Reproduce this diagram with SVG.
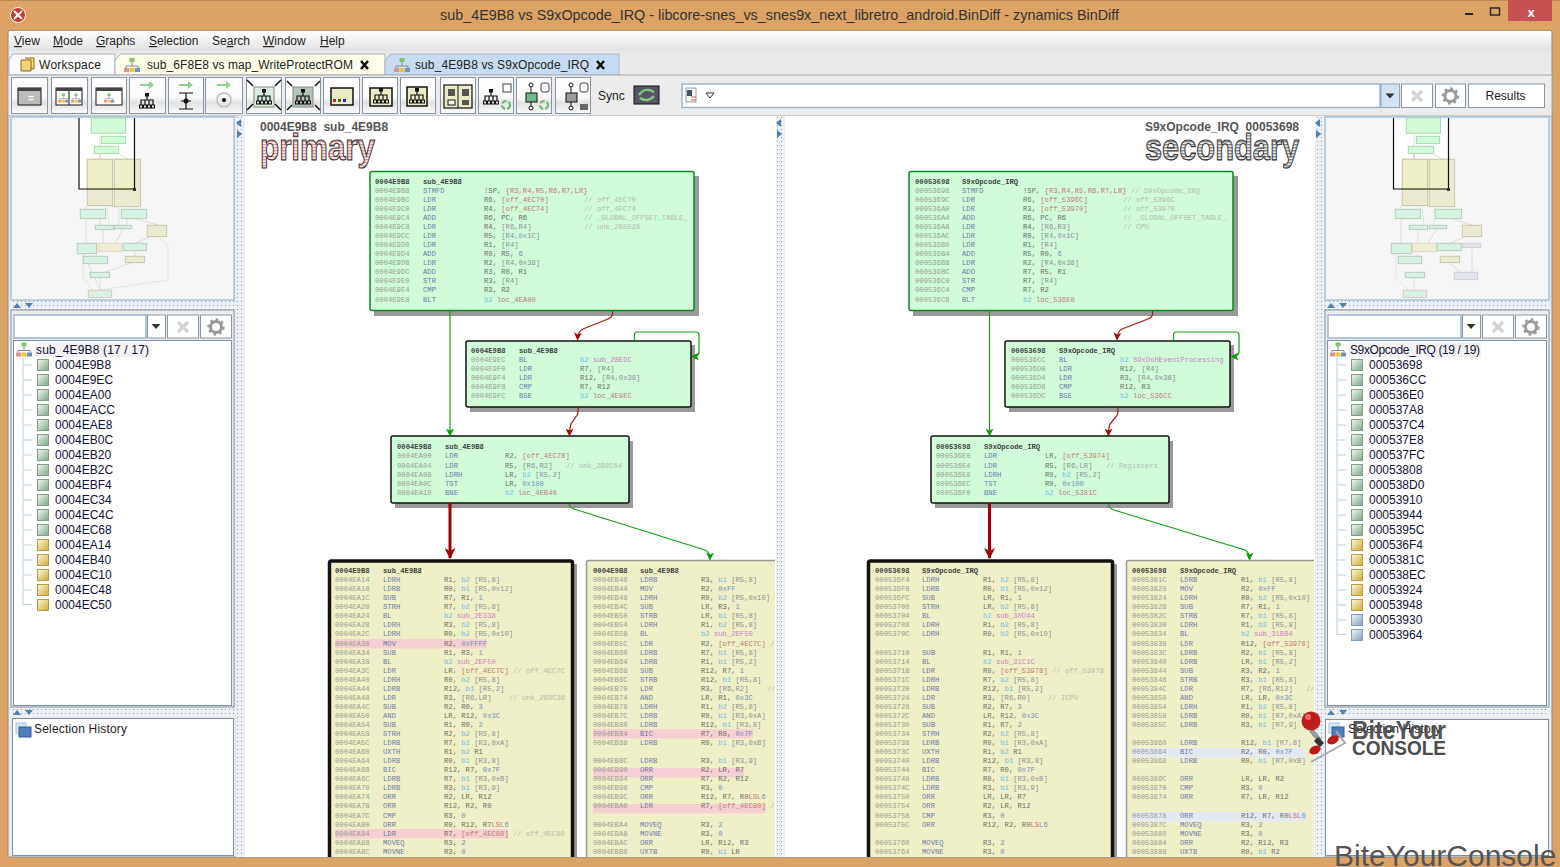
<svg xmlns="http://www.w3.org/2000/svg" width="1560" height="867" viewBox="0 0 1560 867">
<style>
text{font-family:"Liberation Sans",Arial,sans-serif}
.ui{font-size:12px;fill:#222}
.tree{font-size:12px;fill:#10103a}
.code text{font-family:"Liberation Mono","Courier New",monospace;font-size:7.2px;fill:#555;opacity:.85}
.a{fill:#8c8c8c}.m{fill:#5565a5}.o{fill:#555}.p{fill:#7a8090}.k{fill:#62b4ea}.n{fill:#5f80b8}.l{fill:#b56a60}.f{fill:#c86cc8}.c{fill:#b0b0b0}.s{fill:#c06060}
.h{font-weight:bold;fill:#222}
.btn{fill:url(#bg);stroke:#8696a6}
.fld{fill:#fff;stroke:#9db6cf;stroke-width:1.5}
.pane{fill:#fff;stroke:#7f93a7}
.gb{fill:#d1fcd9;stroke:#0a8a1a;stroke-width:1.5}
.bb{fill:#d1fcd9;stroke:#111;stroke-width:1.5}
.yb{fill:#f0f0c8;stroke:#111;stroke-width:3.5}
.yt{fill:#f0f0c8;stroke:#999;stroke-width:1.5}
.sh{fill:#999}
.g1{fill:none;stroke:#12a012;stroke-width:1.2}
.r1{fill:none;stroke:#b01010;stroke-width:1.2}
.r3{fill:none;stroke:#a00000;stroke-width:3}
.hr{fill:#f5d0d2}.hb{fill:#e5e9f2}
.ic{fill:none;stroke:#111;stroke-width:1.2}
.mg{fill:#d0fcd8;stroke:#a8d8b0}.mf{fill:#d9f3e2;stroke:#b9ccc0}.my{fill:#f0f0c8;stroke:#c8c8a8}.myf{fill:#ecebd2;stroke:#c8c8b0}.mz{fill:#f0eed8;stroke:#e0d8c0}.mb{fill:#e4e6ee;stroke:#d0d0d8}.mp{fill:#d9f3e2;stroke:#e0c8c8}
.me{fill:none;stroke:#e8d8d8;stroke-width:1}.mh{fill:none;stroke:#d8ecd8;stroke-width:1}
.lb{fill:#4f7fb8}
.wm{font-weight:bold;fill:#4d4d4d}
</style>
<defs>
<linearGradient id="bg" x1="0" y1="0" x2="0" y2="1"><stop offset="0" stop-color="#fff"/><stop offset=".55" stop-color="#fafafa"/><stop offset=".7" stop-color="#e2e2e2"/><stop offset="1" stop-color="#fbfbfb"/></linearGradient>
<linearGradient id="mb" x1="0" y1="0" x2="0" y2="1"><stop offset="0" stop-color="#fff"/><stop offset="1" stop-color="#e2e2e2"/></linearGradient>
<linearGradient id="ig" x1="0" y1="0" x2="1" y2="1"><stop offset="0" stop-color="#f4f8f4"/><stop offset="1" stop-color="#7ba886"/></linearGradient>
<linearGradient id="iy" x1="0" y1="0" x2="1" y2="1"><stop offset="0" stop-color="#fdf8dc"/><stop offset="1" stop-color="#d0aa38"/></linearGradient>
<linearGradient id="ib" x1="0" y1="0" x2="1" y2="1"><stop offset="0" stop-color="#f4f8fc"/><stop offset="1" stop-color="#7f9fc0"/></linearGradient>
<pattern id="dots" width="4" height="4" patternUnits="userSpaceOnUse"><rect width="4" height="4" fill="#edf1f5"/><rect x="1" y="1" width="1" height="1" fill="#8a9aaa"/></pattern>
<pattern id="st1" width="3" height="3" patternUnits="userSpaceOnUse"><rect width="3" height="3" fill="#fbe4e4"/><rect width="3" height="1.2" fill="#d89a9a"/></pattern>
<pattern id="st2" width="3" height="3" patternUnits="userSpaceOnUse"><rect width="3" height="3" fill="#eeeeee"/><rect width="3" height="1.4" fill="#8a8a8a"/></pattern>
<clipPath id="cl"><rect x="246" y="116" width="529" height="741"/></clipPath>
<clipPath id="cr"><rect x="785" y="116" width="529" height="741"/></clipPath>
<marker id="ag" markerWidth="8" markerHeight="8" refX="7" refY="4" orient="auto" markerUnits="userSpaceOnUse"><path d="M0 0L8 4L0 8L2 4Z" fill="#0a9a0a"/></marker>
<marker id="ar" markerWidth="8" markerHeight="8" refX="7" refY="4" orient="auto" markerUnits="userSpaceOnUse"><path d="M0 0L8 4L0 8L2 4Z" fill="#a80808"/></marker>
<marker id="aR" markerWidth="11" markerHeight="11" refX="10" refY="5.5" orient="auto" markerUnits="userSpaceOnUse"><path d="M0 0L11 5.5L0 11L3 5.5Z" fill="#a00000"/></marker>
<g id="tr"><path class="ic" d="M0 -5V-1M-6 4V-1H6V4M-2 4V-1M2 4V-1"/><rect x="-2" y="-8" width="4" height="3.5" fill="#111"/><rect x="-7.5" y="4" width="3" height="3" fill="none" stroke="#111"/><rect x="-3.5" y="4" width="3" height="3" fill="none" stroke="#111"/><rect x=".5" y="4" width="3" height="3" fill="none" stroke="#111"/><rect x="4.5" y="4" width="3" height="3" fill="none" stroke="#111"/></g>
<g id="ti"><path d="M0 -3V1M-6 3V1H6V3" fill="none" stroke="#888"/><rect x="-2.5" y="-7" width="5" height="4" fill="#7cc66a"/><rect x="-8" y="3" width="5" height="4" fill="#e79090"/><rect x="-2.5" y="3" width="5" height="4" fill="#e8c83e"/><rect x="3" y="3" width="5" height="4" fill="#6f93b8"/></g>
<g id="ga"><circle r="5.5" fill="none" stroke="#999" stroke-width="3"/><circle r="7.5" fill="none" stroke="#999" stroke-width="2.4" stroke-dasharray="2.6 3.2"/></g>
<path id="xx" d="M-5 -5L5 5M5 -5L-5 5" stroke="#d4d4d4" stroke-width="3.5" fill="none"/>
<path id="dn" d="M-4.5 -2.5H4.5L0 2.5Z" fill="#333"/>
<g id="sw"><circle r="4" fill="none" stroke="#6ab86a" stroke-width="2" stroke-dasharray="5 2"/></g>
</defs>

<rect width="1560" height="867" fill="#dda364"/>
<rect x="0" y="0" width="1560" height="1" fill="#b98a55"/>
<g id="caption">
<circle cx="18" cy="15" r="7.5" fill="#c23a30" stroke="#fff"/><path d="M14 11L22 19M22 11L14 19" stroke="#fff" stroke-width="2"/>
<text x="440" y="20" font-size="14.5" fill="#333" textLength="679" lengthAdjust="spacingAndGlyphs">sub_4E9B8 vs S9xOpcode_IRQ - libcore-snes_vs_snes9x_next_libretro_android.BinDiff - zynamics BinDiff</text>
<rect x="1465" y="13" width="8" height="2" fill="#222"/><rect x="1490.500" y="8" width="9" height="7" fill="none" stroke="#222" stroke-width="1.4"/>
<rect x="1508" y="0" width="44" height="21" fill="#c75050"/><text x="1531" y="17" font-size="13" font-weight="bold" fill="#fff" text-anchor="middle">x</text>
</g>
<rect x="8" y="31" width="1544" height="826" fill="#eaeaea" stroke="#8c8c8c"/>
<g id="menu">
<rect x="9" y="31" width="1542" height="20" fill="url(#mb)"/>
<text class="ui" y="45"><tspan x="14" text-decoration="underline">V</tspan><tspan>iew</tspan><tspan x="53" text-decoration="underline">M</tspan><tspan>ode</tspan><tspan x="96" text-decoration="underline">G</tspan><tspan>raphs</tspan><tspan x="149" text-decoration="underline">S</tspan><tspan>election</tspan><tspan x="212">Se</tspan><tspan text-decoration="underline">a</tspan><tspan>rch</tspan><tspan x="263" text-decoration="underline">W</tspan><tspan>indow</tspan><tspan x="320" text-decoration="underline">H</tspan><tspan>elp</tspan></text>
</g>
<g id="tabs">
<path d="M9 75V60L13 54H115V75Z" fill="#fbfbfb" stroke="#a9b4c0"/>
<path d="M115 75V60L121 54H385V75Z" fill="#fdfde9" stroke="#a9b4c0"/>
<path d="M385 75V60L391 54H619V75Z" fill="#c7dcf2" stroke="#a9b4c0"/>
<path d="M21 60h10v11h-10z M25 58h9v11h-3" fill="#f2d27a" stroke="#8a6a20"/>
<text class="ui" x="39" y="69" textLength="62">Workspace</text>
<use href="#ti" x="132" y="65"/><text class="ui" x="147" y="69" textLength="206">sub_6F8E8 vs map_WriteProtectROM</text><path d="M361 61L368 69M368 61L361 69" stroke="#111" stroke-width="2.6"/>
<use href="#ti" x="402" y="65"/><text class="ui" x="415" y="69" textLength="174">sub_4E9B8 vs S9xOpcode_IRQ</text><path d="M597 61L604 69M604 61L597 69" stroke="#111" stroke-width="2.6"/>
</g>
<g id="toolbar">
<rect x="8" y="75" width="1544" height="41" fill="#ececec" stroke="#a8a8a8"/>
<rect class="btn" x="11.500" y="77.500" width="36" height="36"/><rect class="btn" x="51.500" y="77.500" width="36" height="36"/><rect class="btn" x="91.500" y="77.500" width="35" height="36"/><rect class="btn" x="129.500" y="77.500" width="36" height="36"/><rect class="btn" x="168.500" y="77.500" width="35" height="36"/><rect class="btn" x="205.500" y="77.500" width="37" height="36"/><rect class="btn" x="246.500" y="77.500" width="35" height="36"/><rect class="btn" x="285.500" y="77.500" width="35" height="36"/><rect class="btn" x="323.500" y="77.500" width="36" height="36"/><rect class="btn" x="362.500" y="77.500" width="35" height="36"/><rect class="btn" x="400.500" y="77.500" width="35" height="36"/><rect class="btn" x="440.500" y="77.500" width="35" height="36"/><rect class="btn" x="478.500" y="77.500" width="35" height="36"/><rect class="btn" x="516.500" y="77.500" width="35" height="36"/><rect class="btn" x="555.500" y="77.500" width="35" height="36"/>
<rect x="18" y="88" width="23" height="17" fill="#bbb" stroke="#111"/><rect x="18" y="88" width="23" height="3" fill="#444"/><text x="28" y="102" font-size="10" font-weight="bold" fill="#fff">=</text>
<rect x="56" y="88" width="26" height="17" fill="#fff" stroke="#111"/><rect x="56" y="88" width="26" height="3" fill="#444"/><path d="M69 91V105" stroke="#111"/><use href="#ti" x="62.500" y="98" transform="translate(23.400 35.300) scale(.64)"/><use href="#ti" x="76" y="98" transform="translate(27.400 35.300) scale(.64)"/>
<rect x="96" y="88" width="26" height="17" fill="#fff" stroke="#111"/><rect x="96" y="88" width="26" height="3" fill="#444"/><use href="#ti" x="109" y="98" transform="translate(39.200 35.300) scale(.64)"/>
<path d="M140 84h9v-3l5 4-5 4v-3h-9z" fill="#8fcf8f"/><use href="#tr" x="147" y="101"/>
<path d="M179 84h9v-3l5 4-5 4v-3h-9z" fill="#8fcf8f"/><path class="ic" d="M186 93V109M179 93H193M179 109H193M181 101H191"/><circle cx="186" cy="101" r="2.500" fill="#111"/>
<path d="M217 84h9v-3l5 4-5 4v-3h-9z" fill="#8fcf8f"/><circle cx="224" cy="100" r="7" fill="none" stroke="#bbb" stroke-width="1.500"/><circle cx="224" cy="100" r="2" fill="#111"/>
<rect x="254" y="87" width="20" height="20" fill="#d8f0dc" stroke="#888"/><use href="#tr" x="264" y="97"/><path d="M247 80L253 86M281 80L275 86M247 110L253 104M281 110L275 104" stroke="#111" stroke-width="1.500"/>
<rect x="293" y="87" width="20" height="20" fill="#b4c4b4" stroke="#888"/><use href="#tr" x="303" y="97"/><path d="M287 81L292 86M320 81L315 86M287 110L292 105M320 110L315 105" stroke="#111" stroke-width="1.500"/>
<rect x="331" y="88" width="22" height="17" fill="#ecebc8" stroke="#111" stroke-width="1.500"/><rect x="333" y="99" width="3" height="3" fill="#c22"/><rect x="338" y="99" width="3" height="3" fill="#282"/><rect x="343" y="99" width="3" height="3" fill="#22c"/>
<rect x="370" y="88" width="22" height="18" fill="#ecebc8" stroke="#111" stroke-width="1.500"/><use href="#tr" x="381" y="96"/>
<rect x="407" y="87" width="20" height="19" fill="#ecebc8" stroke="#111" stroke-width="1.500"/><use href="#tr" x="417" y="96"/>
<rect x="444" y="85" width="28" height="23" fill="#ecebc8" stroke="#111" stroke-width="1.200"/><path d="M458 85V108" stroke="#111"/><rect x="448" y="89" width="7" height="7" fill="#555"/><rect x="462" y="89" width="7" height="7" fill="#555"/><rect x="448" y="100" width="7" height="5" fill="#fff" stroke="#111"/><rect x="462" y="100" width="7" height="5" fill="#555"/>
<use href="#tr" x="491" y="97"/><rect x="503" y="84" width="8" height="8" fill="#fff" stroke="#444"/><use href="#sw" x="506" y="105"/>
<circle cx="531" cy="85" r="2" fill="none" stroke="#111"/><rect x="526" y="93" width="11" height="9" fill="#72b88a" stroke="#111"/><circle cx="531" cy="108" r="2" fill="none" stroke="#111"/><path d="M531 87V93M531 102V106" stroke="#111"/><rect x="541" y="83" width="8" height="9" rx="2" fill="#fff" stroke="#444"/><use href="#sw" x="544" y="105"/>
<circle cx="571" cy="85" r="2" fill="none" stroke="#111"/><rect x="566" y="93" width="11" height="9" fill="#999" stroke="#111"/><circle cx="571" cy="108" r="2" fill="none" stroke="#111"/><path d="M571 87V93M571 102V106" stroke="#111"/><rect x="580" y="83" width="8" height="9" rx="2" fill="#fff" stroke="#444"/><rect x="580" y="104" width="8" height="6" fill="#666"/>
<text class="ui" x="598" y="100">Sync</text>
<rect x="634" y="86" width="25" height="18" fill="#556" stroke="#111"/><path d="M639 95C643 89 649 89 654 92M654 96C650 101 644 101 640 98" stroke="#7ec87e" stroke-width="2.500" fill="none"/>
<rect class="fld" x="682" y="84" width="698" height="23.500"/>
<rect x="686" y="88" width="10" height="14" fill="#fff" stroke="#999"/><rect x="687" y="90" width="5" height="6" fill="#456"/><path d="M691 97h5M691 100h5" stroke="#d55" stroke-width="1.200"/>
<path d="M706 93H714L710 98Z" fill="#fff" stroke="#333"/>
<rect x="1381" y="84" width="18.500" height="23.500" fill="#d3e2f0" stroke="#8ea3b8"/><use href="#dn" x="1390" y="96"/>
<rect x="1401.500" y="84" width="31" height="23.500" fill="#fff" stroke="#8696a6"/><use href="#xx" x="1417" y="96"/>
<rect x="1435.500" y="84" width="30" height="23.500" fill="#fff" stroke="#8696a6"/><use href="#ga" x="1450.500" y="96"/>
<rect x="1468.500" y="84" width="76" height="23.500" fill="#fff" stroke="#8696a6"/><text class="ui" x="1505.500" y="100" text-anchor="middle">Results</text>
</g>

<g id="left-panel">
<rect x="11" y="117" width="223" height="183" fill="#f6f6f6" stroke="#a9c4de" stroke-width="1.500"/>
<rect x="79" y="118" width="56" height="71" fill="#fff"/>
<rect class="mg" x="91.300" y="118" width="34.300" height="15.300"/><rect class="mg" x="101.300" y="136.300" width="24.300" height="7.300"/><rect class="mg" x="94.300" y="146.300" width="24.300" height="7.300"/>
<path class="mh" d="M100 133V146M119 154L128 159"/><path d="M100 154V159" stroke="#f0a8a8"/>
<rect class="myf" x="87.300" y="159.300" width="25.300" height="46.300"/><rect class="my" x="87.300" y="159.300" width="25.300" height="30"/><rect class="myf" x="114.300" y="159.300" width="26.300" height="47.300"/><rect class="my" x="114.300" y="159.300" width="20.300" height="30"/>
<path class="me" d="M86 206V209M134 207V209M86 219V243M100 219V226M127 219V225M136 219L158 225M103 230V243M123 228L116 243M150 237L135 243M96 254V263M135 247V256M131 263L100 274M100 277V290M83 253L100 289"/><path class="mh" d="M107 206L109 225M119 207V225M158 237L168 245V280L100 290M83 254V277L92 290"/>
<rect class="mf" x="80.300" y="209.300" width="25.300" height="9.300"/><rect class="mf" x="121.300" y="209.300" width="25.300" height="9.300"/><rect class="mf" x="95.300" y="225.300" width="18.700" height="4.300"/><rect class="mf" x="114.300" y="225.300" width="17.300" height="3.300"/><rect class="myf" x="147.300" y="225.300" width="19.300" height="11.300"/><rect class="mf" x="77.300" y="243.300" width="19.300" height="10.300"/><rect class="mz" x="98.300" y="243.300" width="23.300" height="8.300"/><rect class="mf" x="123.300" y="243.300" width="23.300" height="7.300"/><rect class="mf" x="83.300" y="256.300" width="24.300" height="7.300"/><rect class="myf" x="125.300" y="256.300" width="19.300" height="6.300"/><rect class="mf" x="90.300" y="272.300" width="19.300" height="5.300"/><rect class="mp" x="88.300" y="290.300" width="23.300" height="7.300"/>
<path d="M79 118V189H134.500V118" fill="none" stroke="#111" stroke-width="1.200"/><rect x="133" y="188" width="3" height="3" fill="#333"/>
<rect x="11" y="301" width="223" height="9" fill="url(#dots)"/><path class="lb" d="M13 308L17 303L21 308ZM25 303H33L29 308Z"/>
<rect x="11" y="310" width="223" height="397" fill="#ececec" stroke="#7f93a7"/>
<rect class="fld" x="14" y="315" width="132" height="23"/>
<rect x="147.500" y="315" width="18" height="23" fill="#fff" stroke="#8696a6"/><use href="#dn" x="156" y="326.500"/>
<rect x="167.500" y="315" width="31" height="23" fill="#fff" stroke="#8696a6"/><use href="#xx" x="183" y="327"/>
<rect x="200.500" y="315" width="31" height="23" fill="#fff" stroke="#8696a6"/><use href="#ga" x="216" y="327"/>
<rect class="pane" x="13.500" y="340.500" width="218" height="365"/>
<use href="#ti" x="24" y="349.500"/><rect x="35" y="342" width="117" height="15" fill="#f3f3f3"/><text class="tree" x="36" y="354" textLength="113">sub_4E9B8 (17 / 17)</text>
<path d="M23 357V604.500H32M23 365H32M23 380H32M23 395H32M23 410H32M23 425H32M23 440H32M23 455H32M23 470H32M23 485H32M23 500H32M23 515H32M23 530H32M23 545H32M23 560H32M23 575H32M23 590H32" fill="none" stroke="#b7cfe5"/>
<g fill="url(#ig)" stroke="#7f9f88"><rect x="37.500" y="359.500" width="11" height="11"/><rect x="37.500" y="374.500" width="11" height="11"/><rect x="37.500" y="389.500" width="11" height="11"/><rect x="37.500" y="404.500" width="11" height="11"/><rect x="37.500" y="419.500" width="11" height="11"/><rect x="37.500" y="434.500" width="11" height="11"/><rect x="37.500" y="449.500" width="11" height="11"/><rect x="37.500" y="464.500" width="11" height="11"/><rect x="37.500" y="479.500" width="11" height="11"/><rect x="37.500" y="494.500" width="11" height="11"/><rect x="37.500" y="509.500" width="11" height="11"/><rect x="37.500" y="524.500" width="11" height="11"/></g>
<g fill="url(#iy)" stroke="#b89a48"><rect x="37.500" y="539.500" width="11" height="11"/><rect x="37.500" y="554.500" width="11" height="11"/><rect x="37.500" y="569.500" width="11" height="11"/><rect x="37.500" y="584.500" width="11" height="11"/><rect x="37.500" y="599.500" width="11" height="11"/></g>
<g class="tree"><text class="tree" x="55" y="369">0004E9B8</text><text class="tree" x="55" y="384">0004E9EC</text><text class="tree" x="55" y="399">0004EA00</text><text class="tree" x="55" y="414">0004EACC</text><text class="tree" x="55" y="429">0004EAE8</text><text class="tree" x="55" y="444">0004EB0C</text><text class="tree" x="55" y="459">0004EB20</text><text class="tree" x="55" y="474">0004EB2C</text><text class="tree" x="55" y="489">0004EBF4</text><text class="tree" x="55" y="504">0004EC34</text><text class="tree" x="55" y="519">0004EC4C</text><text class="tree" x="55" y="534">0004EC68</text><text class="tree" x="55" y="549">0004EA14</text><text class="tree" x="55" y="564">0004EB40</text><text class="tree" x="55" y="579">0004EC10</text><text class="tree" x="55" y="594">0004EC48</text><text class="tree" x="55" y="609">0004EC50</text></g>
<rect x="11" y="708" width="223" height="9" fill="url(#dots)"/><path class="lb" d="M13 715L17 710L21 715ZM25 710H33L29 715Z"/>
<rect class="pane" x="12.500" y="718.500" width="221" height="137"/>
<rect x="16" y="723" width="10" height="10" fill="#dbe7f3" stroke="#a9c4de"/><rect x="19" y="727" width="12" height="10" fill="#4f7fb8" stroke="#2f5f98"/>
<text class="ui" x="34" y="733" textLength="93">Selection History</text>
</g>

<g id="right-panel">
<rect x="1325" y="117" width="224" height="183" fill="#f6f6f6" stroke="#a9c4de" stroke-width="1.500"/>
<rect x="1393" y="118" width="56" height="71" fill="#fff"/>
<rect class="mg" x="1406.300" y="118" width="34.300" height="15.300"/><rect class="mg" x="1416.300" y="136.300" width="23.300" height="7.300"/><rect class="mg" x="1408.300" y="146.300" width="25.300" height="7.300"/>
<path class="mh" d="M1414 133V146M1433 154L1442 159"/><path d="M1414 154V159" stroke="#f0a8a8"/>
<rect class="myf" x="1402.300" y="159.300" width="25.300" height="46.300"/><rect class="my" x="1402.300" y="159.300" width="25.300" height="30"/><rect class="myf" x="1429.300" y="159.300" width="25.300" height="47.300"/><rect class="my" x="1429.300" y="159.300" width="19.300" height="30"/>
<path class="me" d="M1401 206V209M1448 207V209M1401 219V243M1418 229V243M1437 228L1428 243M1465 237L1450 243M1472 247V275M1417 254V263M1450 263L1460 272M1414 277V290M1453 219L1472 225"/><path class="mh" d="M1422 206L1424 225M1434 207V225M1396 254V277L1408 290"/>
<rect class="mf" x="1395.300" y="209.300" width="25.300" height="9.300"/><rect class="mf" x="1435.300" y="209.300" width="26.300" height="9.300"/><rect class="mf" x="1409.300" y="225.300" width="18.300" height="4"/><rect class="mf" x="1429.300" y="225.300" width="17.300" height="3.300"/><rect class="myf" x="1462.300" y="225.300" width="19.300" height="11.300"/><rect class="mf" x="1391.300" y="243.300" width="20.300" height="10.300"/><rect class="mz" x="1412.300" y="243.300" width="24.300" height="8.300"/><rect class="mf" x="1437.300" y="243.300" width="24" height="7.300"/><rect class="mb" x="1462.700" y="243.300" width="18" height="4.300"/><rect class="mf" x="1398.300" y="256.300" width="23.300" height="7.300"/><rect class="myf" x="1440.300" y="256.300" width="19.300" height="6.300"/><rect class="mf" x="1405.300" y="272.300" width="19.300" height="5.300"/><rect class="mb" x="1454.300" y="272.300" width="23.300" height="7.300"/><rect class="mp" x="1403.300" y="290.300" width="23.300" height="7.300"/>
<path d="M1393.500 118V189H1448.500V118" fill="none" stroke="#111" stroke-width="1.200"/><rect x="1447" y="188" width="3" height="3" fill="#333"/>
<rect x="1325" y="301" width="224" height="9" fill="url(#dots)"/><path class="lb" d="M1327 308L1331 303L1335 308ZM1339 303H1347L1343 308Z"/>
<rect x="1325" y="310" width="224" height="397" fill="#ececec" stroke="#7f93a7"/>
<rect class="fld" x="1328" y="315" width="133" height="23"/>
<rect x="1462.500" y="315" width="18" height="23" fill="#fff" stroke="#8696a6"/><use href="#dn" x="1471" y="326.500"/>
<rect x="1482.500" y="315" width="31" height="23" fill="#fff" stroke="#8696a6"/><use href="#xx" x="1498" y="327"/>
<rect x="1515.500" y="315" width="31" height="23" fill="#fff" stroke="#8696a6"/><use href="#ga" x="1531" y="327"/>
<rect class="pane" x="1327.500" y="340.500" width="219" height="365"/>
<use href="#ti" x="1338" y="349.500"/><rect x="1349" y="342" width="132" height="15" fill="#f3f3f3"/><text class="tree" x="1350" y="354" textLength="130">S9xOpcode_IRQ (19 / 19)</text>
<path d="M1337 357V634.500H1346M1337 365H1346M1337 380H1346M1337 395H1346M1337 410H1346M1337 425H1346M1337 440H1346M1337 455H1346M1337 470H1346M1337 485H1346M1337 500H1346M1337 515H1346M1337 530H1346M1337 545H1346M1337 560H1346M1337 575H1346M1337 590H1346M1337 605H1346M1337 620H1346" fill="none" stroke="#b7cfe5"/>
<g fill="url(#ig)" stroke="#7f9f88"><rect x="1351.500" y="359.500" width="11" height="11"/><rect x="1351.500" y="374.500" width="11" height="11"/><rect x="1351.500" y="389.500" width="11" height="11"/><rect x="1351.500" y="404.500" width="11" height="11"/><rect x="1351.500" y="419.500" width="11" height="11"/><rect x="1351.500" y="434.500" width="11" height="11"/><rect x="1351.500" y="449.500" width="11" height="11"/><rect x="1351.500" y="464.500" width="11" height="11"/><rect x="1351.500" y="479.500" width="11" height="11"/><rect x="1351.500" y="494.500" width="11" height="11"/><rect x="1351.500" y="509.500" width="11" height="11"/><rect x="1351.500" y="524.500" width="11" height="11"/></g>
<g fill="url(#iy)" stroke="#b89a48"><rect x="1351.500" y="539.500" width="11" height="11"/><rect x="1351.500" y="554.500" width="11" height="11"/><rect x="1351.500" y="569.500" width="11" height="11"/><rect x="1351.500" y="584.500" width="11" height="11"/><rect x="1351.500" y="599.500" width="11" height="11"/></g>
<g fill="url(#ib)" stroke="#7f9fc0"><rect x="1351.500" y="614.500" width="11" height="11"/><rect x="1351.500" y="629.500" width="11" height="11"/></g>
<text class="tree" x="1369" y="369">00053698</text><text class="tree" x="1369" y="384">000536CC</text><text class="tree" x="1369" y="399">000536E0</text><text class="tree" x="1369" y="414">000537A8</text><text class="tree" x="1369" y="429">000537C4</text><text class="tree" x="1369" y="444">000537E8</text><text class="tree" x="1369" y="459">000537FC</text><text class="tree" x="1369" y="474">00053808</text><text class="tree" x="1369" y="489">000538D0</text><text class="tree" x="1369" y="504">00053910</text><text class="tree" x="1369" y="519">00053944</text><text class="tree" x="1369" y="534">0005395C</text><text class="tree" x="1369" y="549">000536F4</text><text class="tree" x="1369" y="564">0005381C</text><text class="tree" x="1369" y="579">000538EC</text><text class="tree" x="1369" y="594">00053924</text><text class="tree" x="1369" y="609">00053948</text><text class="tree" x="1369" y="624">00053930</text><text class="tree" x="1369" y="639">00053964</text>
<rect x="1325" y="708" width="224" height="9" fill="url(#dots)"/><path class="lb" d="M1327 715L1331 710L1335 715ZM1339 710H1347L1343 715Z"/>
<rect class="pane" x="1325.500" y="719.500" width="223" height="136"/>
<rect x="1329" y="723" width="10" height="10" fill="#dbe7f3" stroke="#a9c4de"/><rect x="1332" y="727" width="12" height="10" fill="#4f7fb8" stroke="#2f5f98"/>
<text class="ui" x="1348" y="733" textLength="93">Selection History</text>
</g>

<g id="splitters">
<rect x="236" y="116" width="9" height="741" fill="url(#dots)"/><rect x="776" y="116" width="9" height="741" fill="url(#dots)"/><rect x="1315" y="116" width="9" height="741" fill="url(#dots)"/>
<path class="lb" d="M241 119V127L236 123ZM237 130V138L242 134ZM781 119V127L776 123ZM777 130L782 134L777 138ZM1320 119V127L1315 123ZM1316 130L1321 134L1316 138Z"/>
</g>
<rect x="245" y="116" width="531" height="741" fill="#fff"/>
<rect x="785" y="116" width="530" height="741" fill="#fff"/>

<g id="pane-labels">
<text x="260" y="131" font-size="12" font-weight="bold" fill="#555">0004E9B8&#160;&#160;sub_4E9B8</text>
<text x="260" y="160" font-size="37" font-weight="bold" fill="url(#st1)" stroke="#3a3030" stroke-width="1.100" textLength="115" lengthAdjust="spacingAndGlyphs">primary</text>
<text x="1299" y="131" font-size="12" font-weight="bold" fill="#555" text-anchor="end">S9xOpcode_IRQ&#160;&#160;00053698</text>
<text x="1145" y="160" font-size="37" font-weight="bold" fill="url(#st2)" stroke="#333" stroke-width="1.100" textLength="154" lengthAdjust="spacingAndGlyphs">secondary</text>
</g>

<g id="primary-nodes" class="code" clip-path="url(#cl)">
<g id="p-0004E9B8"><rect class="sh" x="374" y="176" width="325" height="140"/><rect class="gb" x="370" y="171.500" width="324" height="139" rx="2"/>
<text y="184"><tspan class="h" x="375">0004E9B8</tspan><tspan class="h" x="423">sub_4E9B8</tspan></text>
<text y="193"><tspan class="a" x="375">0004E9B8</tspan><tspan class="m" x="423">STMFD</tspan><tspan class="o" x="484">!SP, </tspan><tspan class="s">{R3,R4,R5,R6,R7,LR}</tspan></text>
<text y="202"><tspan class="a" x="375">0004E9BC</tspan><tspan class="m" x="423">LDR</tspan><tspan class="o" x="484">R6, </tspan><tspan class="l">[off_4EC70]</tspan><tspan class="c" x="584">// off_4EC70</tspan></text>
<text y="211"><tspan class="a" x="375">0004E9C0</tspan><tspan class="m" x="423">LDR</tspan><tspan class="o" x="484">R4, </tspan><tspan class="l">[off_4EC74]</tspan><tspan class="c" x="584">// off_4EC74</tspan></text>
<text y="220"><tspan class="a" x="375">0004E9C4</tspan><tspan class="m" x="423">ADD</tspan><tspan class="o" x="484">R6, PC, R6</tspan><tspan class="c" x="584">// _GLOBAL_OFFSET_TABLE_</tspan></text>
<text y="229"><tspan class="a" x="375">0004E9C8</tspan><tspan class="m" x="423">LDR</tspan><tspan class="o" x="484">R4, </tspan><tspan class="p">[R6,R4]</tspan><tspan class="c" x="584">// unk_2B8B28</tspan></text>
<text y="238"><tspan class="a" x="375">0004E9CC</tspan><tspan class="m" x="423">LDR</tspan><tspan class="o" x="484">R5, </tspan><tspan class="p">[R4,0x1C]</tspan></text>
<text y="247"><tspan class="a" x="375">0004E9D0</tspan><tspan class="m" x="423">LDR</tspan><tspan class="o" x="484">R1, </tspan><tspan class="p">[R4]</tspan></text>
<text y="256"><tspan class="a" x="375">0004E9D4</tspan><tspan class="m" x="423">ADD</tspan><tspan class="o" x="484">R0, R5, </tspan><tspan class="n">6</tspan></text>
<text y="265"><tspan class="a" x="375">0004E9D8</tspan><tspan class="m" x="423">LDR</tspan><tspan class="o" x="484">R2, </tspan><tspan class="p">[R4,0x38]</tspan></text>
<text y="274"><tspan class="a" x="375">0004E9DC</tspan><tspan class="m" x="423">ADD</tspan><tspan class="o" x="484">R3, R0, R1</tspan></text>
<text y="283"><tspan class="a" x="375">0004E9E0</tspan><tspan class="m" x="423">STR</tspan><tspan class="o" x="484">R3, </tspan><tspan class="p">[R4]</tspan></text>
<text y="292"><tspan class="a" x="375">0004E9E4</tspan><tspan class="m" x="423">CMP</tspan><tspan class="o" x="484">R3, R2</tspan></text>
<text y="302"><tspan class="a" x="375">0004E9E8</tspan><tspan class="m" x="423">BLT</tspan><tspan class="k" x="484">b2 </tspan><tspan class="l">loc_4EA00</tspan></text>
</g>
<g id="p-0004E9EC"><rect class="sh" x="470" y="345" width="225" height="67"/><rect class="bb" x="466" y="341" width="225" height="66" rx="2"/>
<text y="353"><tspan class="h" x="471">0004E9B8</tspan><tspan class="h" x="519">sub_4E9B8</tspan></text>
<text y="362"><tspan class="a" x="471">0004E9EC</tspan><tspan class="m" x="519">BL</tspan><tspan class="k" x="580">b2 </tspan><tspan class="f">sub_28EDC</tspan></text>
<text y="371"><tspan class="a" x="471">0004E9F0</tspan><tspan class="m" x="519">LDR</tspan><tspan class="o" x="580">R7, </tspan><tspan class="p">[R4]</tspan></text>
<text y="380"><tspan class="a" x="471">0004E9F4</tspan><tspan class="m" x="519">LDR</tspan><tspan class="o" x="580">R12, </tspan><tspan class="p">[R4,0x38]</tspan></text>
<text y="389"><tspan class="a" x="471">0004E9F8</tspan><tspan class="m" x="519">CMP</tspan><tspan class="o" x="580">R7, R12</tspan></text>
<text y="398"><tspan class="a" x="471">0004E9FC</tspan><tspan class="m" x="519">BGE</tspan><tspan class="k" x="580">b2 </tspan><tspan class="l">loc_4E9EC</tspan></text>
</g>
<g id="p-0004EA00"><rect class="sh" x="395" y="441" width="238" height="67"/><rect class="bb" x="391" y="436" width="238" height="67" rx="2"/>
<text y="449"><tspan class="h" x="397">0004E9B8</tspan><tspan class="h" x="445">sub_4E9B8</tspan></text>
<text y="458"><tspan class="a" x="397">0004EA00</tspan><tspan class="m" x="445">LDR</tspan><tspan class="o" x="505">R2, </tspan><tspan class="l">[off_4EC78]</tspan></text>
<text y="468"><tspan class="a" x="397">0004EA04</tspan><tspan class="m" x="445">LDR</tspan><tspan class="o" x="505">R5, </tspan><tspan class="p">[R6,R2]</tspan><tspan class="c" x="566">// unk_2B8C64</tspan></text>
<text y="477"><tspan class="a" x="397">0004EA08</tspan><tspan class="m" x="445">LDRH</tspan><tspan class="o" x="505">LR, </tspan><tspan class="k">b2 </tspan><tspan class="p">[R5,2]</tspan></text>
<text y="486"><tspan class="a" x="397">0004EA0C</tspan><tspan class="m" x="445">TST</tspan><tspan class="o" x="505">LR, </tspan><tspan class="n">0x100</tspan></text>
<text y="495"><tspan class="a" x="397">0004EA10</tspan><tspan class="m" x="445">BNE</tspan><tspan class="k" x="505">b2 </tspan><tspan class="l">loc_4EB40</tspan></text>
</g>
<g id="p-0004EA14"><rect class="sh" x="333" y="564" width="244" height="300"/><rect class="yb" x="329.500" y="561" width="243" height="300" rx="2"/>
<rect class="hr" x="335" y="639" width="152" height="9.500"/><rect class="hr" x="335" y="829" width="173" height="9.500"/>
<text y="573"><tspan class="h" x="335">0004E9B8</tspan><tspan class="h" x="383">sub_4E9B8</tspan></text>
<text y="582"><tspan class="a" x="335">0004EA14</tspan><tspan class="m" x="383">LDRH</tspan><tspan class="o" x="444">R1, </tspan><tspan class="k">b2 </tspan><tspan class="p">[R5,8]</tspan></text>
<text y="591"><tspan class="a" x="335">0004EA18</tspan><tspan class="m" x="383">LDRB</tspan><tspan class="o" x="444">R0, </tspan><tspan class="k">b1 </tspan><tspan class="p">[R5,0x12]</tspan></text>
<text y="600"><tspan class="a" x="335">0004EA1C</tspan><tspan class="m" x="383">SUB</tspan><tspan class="o" x="444">R7, R1, </tspan><tspan class="n">1</tspan></text>
<text y="609"><tspan class="a" x="335">0004EA20</tspan><tspan class="m" x="383">STRH</tspan><tspan class="o" x="444">R7, </tspan><tspan class="k">b2 </tspan><tspan class="p">[R5,8]</tspan></text>
<text y="618"><tspan class="a" x="335">0004EA24</tspan><tspan class="m" x="383">BL</tspan><tspan class="k" x="444">b2 </tspan><tspan class="f">sub_2E338</tspan></text>
<text y="627"><tspan class="a" x="335">0004EA28</tspan><tspan class="m" x="383">LDRH</tspan><tspan class="o" x="444">R3, </tspan><tspan class="k">b2 </tspan><tspan class="p">[R5,8]</tspan></text>
<text y="636"><tspan class="a" x="335">0004EA2C</tspan><tspan class="m" x="383">LDRH</tspan><tspan class="o" x="444">R0, </tspan><tspan class="k">b2 </tspan><tspan class="p">[R5,0x10]</tspan></text>
<text y="646"><tspan class="a" x="335">0004EA30</tspan><tspan class="m" x="383">MOV</tspan><tspan class="o" x="444">R2, </tspan><tspan class="n">0xFFFF</tspan></text>
<text y="655"><tspan class="a" x="335">0004EA34</tspan><tspan class="m" x="383">SUB</tspan><tspan class="o" x="444">R1, R3, </tspan><tspan class="n">1</tspan></text>
<text y="664"><tspan class="a" x="335">0004EA38</tspan><tspan class="m" x="383">BL</tspan><tspan class="k" x="444">b2 </tspan><tspan class="f">sub_2EF50</tspan></text>
<text y="673"><tspan class="a" x="335">0004EA3C</tspan><tspan class="m" x="383">LDR</tspan><tspan class="o" x="444">LR, </tspan><tspan class="l">[off_4EC7C]</tspan><tspan class="c"> // off_4EC7C</tspan></text>
<text y="682"><tspan class="a" x="335">0004EA40</tspan><tspan class="m" x="383">LDRH</tspan><tspan class="o" x="444">R0, </tspan><tspan class="k">b2 </tspan><tspan class="p">[R5,8]</tspan></text>
<text y="691"><tspan class="a" x="335">0004EA44</tspan><tspan class="m" x="383">LDRB</tspan><tspan class="o" x="444">R12, </tspan><tspan class="k">b1 </tspan><tspan class="p">[R5,2]</tspan></text>
<text y="700"><tspan class="a" x="335">0004EA48</tspan><tspan class="m" x="383">LDR</tspan><tspan class="o" x="444">R3, </tspan><tspan class="p">[R6,LR]</tspan><tspan class="c" x="509">// unk_2B8C38</tspan></text>
<text y="709"><tspan class="a" x="335">0004EA4C</tspan><tspan class="m" x="383">SUB</tspan><tspan class="o" x="444">R2, R0, </tspan><tspan class="n">3</tspan></text>
<text y="718"><tspan class="a" x="335">0004EA50</tspan><tspan class="m" x="383">AND</tspan><tspan class="o" x="444">LR, R12, </tspan><tspan class="n">0x3C</tspan></text>
<text y="727"><tspan class="a" x="335">0004EA54</tspan><tspan class="m" x="383">SUB</tspan><tspan class="o" x="444">R1, R0, </tspan><tspan class="n">2</tspan></text>
<text y="736"><tspan class="a" x="335">0004EA58</tspan><tspan class="m" x="383">STRH</tspan><tspan class="o" x="444">R2, </tspan><tspan class="k">b2 </tspan><tspan class="p">[R5,8]</tspan></text>
<text y="745"><tspan class="a" x="335">0004EA5C</tspan><tspan class="m" x="383">LDRB</tspan><tspan class="o" x="444">R7, </tspan><tspan class="k">b1 </tspan><tspan class="p">[R3,0xA]</tspan></text>
<text y="754"><tspan class="a" x="335">0004EA60</tspan><tspan class="m" x="383">UXTH</tspan><tspan class="o" x="444">R1, </tspan><tspan class="k">b2 </tspan><tspan class="o">R1</tspan></text>
<text y="763"><tspan class="a" x="335">0004EA64</tspan><tspan class="m" x="383">LDRB</tspan><tspan class="o" x="444">R0, </tspan><tspan class="k">b1 </tspan><tspan class="p">[R3,8]</tspan></text>
<text y="772"><tspan class="a" x="335">0004EA68</tspan><tspan class="m" x="383">BIC</tspan><tspan class="o" x="444">R12, R7, </tspan><tspan class="n">0x7F</tspan></text>
<text y="781"><tspan class="a" x="335">0004EA6C</tspan><tspan class="m" x="383">LDRB</tspan><tspan class="o" x="444">R7, </tspan><tspan class="k">b1 </tspan><tspan class="p">[R3,0xB]</tspan></text>
<text y="790"><tspan class="a" x="335">0004EA70</tspan><tspan class="m" x="383">LDRB</tspan><tspan class="o" x="444">R3, </tspan><tspan class="k">b1 </tspan><tspan class="p">[R3,9]</tspan></text>
<text y="799"><tspan class="a" x="335">0004EA74</tspan><tspan class="m" x="383">ORR</tspan><tspan class="o" x="444">R2, LR, R12</tspan></text>
<text y="808"><tspan class="a" x="335">0004EA78</tspan><tspan class="m" x="383">ORR</tspan><tspan class="o" x="444">R12, R2, R0</tspan></text>
<text y="818"><tspan class="a" x="335">0004EA7C</tspan><tspan class="m" x="383">CMP</tspan><tspan class="o" x="444">R3, </tspan><tspan class="n">0</tspan></text>
<text y="827"><tspan class="a" x="335">0004EA80</tspan><tspan class="m" x="383">ORR</tspan><tspan class="o" x="444">R0, R12, R7</tspan><tspan class="s">LSL</tspan><tspan class="n">6</tspan></text>
<text y="836"><tspan class="a" x="335">0004EA84</tspan><tspan class="m" x="383">LDR</tspan><tspan class="o" x="444">R7, </tspan><tspan class="l">[off_4EC80]</tspan><tspan class="c"> // off_4EC80</tspan></text>
<text y="845"><tspan class="a" x="335">0004EA88</tspan><tspan class="m" x="383">MOVEQ</tspan><tspan class="o" x="444">R3, </tspan><tspan class="n">2</tspan></text>
<text y="854"><tspan class="a" x="335">0004EA8C</tspan><tspan class="m" x="383">MOVNE</tspan><tspan class="o" x="444">R3, </tspan><tspan class="n">0</tspan></text>
</g>
<g id="p-0004EB40"><rect class="yt" x="586.500" y="560.500" width="240" height="300" rx="2"/>
<rect class="hr" x="593" y="729" width="160" height="9.500"/><rect class="hr" x="593" y="768" width="151" height="9.500"/><rect class="hr" x="593" y="804" width="173" height="9.500"/>
<text y="573"><tspan class="h" x="593">0004E9B8</tspan><tspan class="h" x="640">sub_4E9B8</tspan></text>
<text y="582"><tspan class="a" x="593">0004EB40</tspan><tspan class="m" x="640">LDRB</tspan><tspan class="o" x="701">R3, </tspan><tspan class="k">b1 </tspan><tspan class="p">[R5,8]</tspan></text>
<text y="591"><tspan class="a" x="593">0004EB44</tspan><tspan class="m" x="640">MOV</tspan><tspan class="o" x="701">R2, </tspan><tspan class="n">0xFF</tspan></text>
<text y="600"><tspan class="a" x="593">0004EB48</tspan><tspan class="m" x="640">LDRH</tspan><tspan class="o" x="701">R0, </tspan><tspan class="k">b2 </tspan><tspan class="p">[R5,0x10]</tspan></text>
<text y="609"><tspan class="a" x="593">0004EB4C</tspan><tspan class="m" x="640">SUB</tspan><tspan class="o" x="701">LR, R3, </tspan><tspan class="n">1</tspan></text>
<text y="618"><tspan class="a" x="593">0004EB50</tspan><tspan class="m" x="640">STRB</tspan><tspan class="o" x="701">LR, </tspan><tspan class="k">b1 </tspan><tspan class="p">[R5,8]</tspan></text>
<text y="627"><tspan class="a" x="593">0004EB54</tspan><tspan class="m" x="640">LDRH</tspan><tspan class="o" x="701">R1, </tspan><tspan class="k">b2 </tspan><tspan class="p">[R5,8]</tspan></text>
<text y="636"><tspan class="a" x="593">0004EB58</tspan><tspan class="m" x="640">BL</tspan><tspan class="k" x="701">b2 </tspan><tspan class="f">sub_2EF50</tspan></text>
<text y="646"><tspan class="a" x="593">0004EB5C</tspan><tspan class="m" x="640">LDR</tspan><tspan class="o" x="701">R2, </tspan><tspan class="l">[off_4EC7C]</tspan><tspan class="c"> /</tspan></text>
<text y="655"><tspan class="a" x="593">0004EB60</tspan><tspan class="m" x="640">LDRB</tspan><tspan class="o" x="701">R7, </tspan><tspan class="k">b1 </tspan><tspan class="p">[R5,8]</tspan></text>
<text y="664"><tspan class="a" x="593">0004EB64</tspan><tspan class="m" x="640">LDRB</tspan><tspan class="o" x="701">R1, </tspan><tspan class="k">b1 </tspan><tspan class="p">[R5,2]</tspan></text>
<text y="673"><tspan class="a" x="593">0004EB68</tspan><tspan class="m" x="640">SUB</tspan><tspan class="o" x="701">R12, R7, </tspan><tspan class="n">1</tspan></text>
<text y="682"><tspan class="a" x="593">0004EB6C</tspan><tspan class="m" x="640">STRB</tspan><tspan class="o" x="701">R12, </tspan><tspan class="k">b1 </tspan><tspan class="p">[R5,8]</tspan></text>
<text y="691"><tspan class="a" x="593">0004EB70</tspan><tspan class="m" x="640">LDR</tspan><tspan class="o" x="701">R3, </tspan><tspan class="p">[R6,R2]</tspan><tspan class="c" x="767">//</tspan></text>
<text y="700"><tspan class="a" x="593">0004EB74</tspan><tspan class="m" x="640">AND</tspan><tspan class="o" x="701">LR, R1, </tspan><tspan class="n">0x3C</tspan></text>
<text y="709"><tspan class="a" x="593">0004EB78</tspan><tspan class="m" x="640">LDRH</tspan><tspan class="o" x="701">R1, </tspan><tspan class="k">b2 </tspan><tspan class="p">[R5,8]</tspan></text>
<text y="718"><tspan class="a" x="593">0004EB7C</tspan><tspan class="m" x="640">LDRB</tspan><tspan class="o" x="701">R0, </tspan><tspan class="k">b1 </tspan><tspan class="p">[R3,0xA]</tspan></text>
<text y="727"><tspan class="a" x="593">0004EB80</tspan><tspan class="m" x="640">LDRB</tspan><tspan class="o" x="701">R12, </tspan><tspan class="k">b1 </tspan><tspan class="p">[R3,8]</tspan></text>
<text y="736"><tspan class="a" x="593">0004EB84</tspan><tspan class="m" x="640">BIC</tspan><tspan class="o" x="701">R7, R0, </tspan><tspan class="n">0x7F</tspan></text>
<text y="745"><tspan class="a" x="593">0004EB88</tspan><tspan class="m" x="640">LDRB</tspan><tspan class="o" x="701">R0, </tspan><tspan class="k">b1 </tspan><tspan class="p">[R3,0xB]</tspan></text>
<text y="763"><tspan class="a" x="593">0004EB8C</tspan><tspan class="m" x="640">LDRB</tspan><tspan class="o" x="701">R3, </tspan><tspan class="k">b1 </tspan><tspan class="p">[R3,9]</tspan></text>
<text y="772"><tspan class="a" x="593">0004EB90</tspan><tspan class="m" x="640">ORR</tspan><tspan class="o" x="701">R2, LR, R7</tspan></text>
<text y="781"><tspan class="a" x="593">0004EB94</tspan><tspan class="m" x="640">ORR</tspan><tspan class="o" x="701">R7, R2, R12</tspan></text>
<text y="790"><tspan class="a" x="593">0004EB98</tspan><tspan class="m" x="640">CMP</tspan><tspan class="o" x="701">R3, </tspan><tspan class="n">0</tspan></text>
<text y="799"><tspan class="a" x="593">0004EB9C</tspan><tspan class="m" x="640">ORR</tspan><tspan class="o" x="701">R12, R7, R0</tspan><tspan class="s">LSL</tspan><tspan class="n">6</tspan></text>
<text y="808"><tspan class="a" x="593">0004EBA0</tspan><tspan class="m" x="640">LDR</tspan><tspan class="o" x="701">R7, </tspan><tspan class="l">[off_4EC80]</tspan><tspan class="c"> /</tspan></text>
<text y="827"><tspan class="a" x="593">0004EBA4</tspan><tspan class="m" x="640">MOVEQ</tspan><tspan class="o" x="701">R3, </tspan><tspan class="n">2</tspan></text>
<text y="836"><tspan class="a" x="593">0004EBA8</tspan><tspan class="m" x="640">MOVNE</tspan><tspan class="o" x="701">R3, </tspan><tspan class="n">0</tspan></text>
<text y="845"><tspan class="a" x="593">0004EBAC</tspan><tspan class="m" x="640">ORR</tspan><tspan class="o" x="701">LR, R12, R3</tspan></text>
<text y="854"><tspan class="a" x="593">0004EBB0</tspan><tspan class="m" x="640">UXTB</tspan><tspan class="o" x="701">R0, </tspan><tspan class="k">b1 </tspan><tspan class="o">LR</tspan></text>
</g>
</g>

<g id="secondary-nodes" class="code" clip-path="url(#cr)">
<g id="s-00053698"><rect class="sh" x="913" y="176" width="325" height="140"/><rect class="gb" x="909" y="171.500" width="324" height="139" rx="2"/>
<text y="184"><tspan class="h" x="915">00053698</tspan><tspan class="h" x="962">S9xOpcode_IRQ</tspan></text>
<text y="193"><tspan class="a" x="915">00053698</tspan><tspan class="m" x="962">STMFD</tspan><tspan class="o" x="1023">!SP, </tspan><tspan class="s">{R3,R4,R5,R6,R7,LR}</tspan><tspan class="c"> // S9xOpcode_IRQ</tspan></text>
<text y="202"><tspan class="a" x="915">0005369C</tspan><tspan class="m" x="962">LDR</tspan><tspan class="o" x="1023">R6, </tspan><tspan class="l">[off_5396C]</tspan><tspan class="c" x="1123">// off_5396C</tspan></text>
<text y="211"><tspan class="a" x="915">000536A0</tspan><tspan class="m" x="962">LDR</tspan><tspan class="o" x="1023">R3, </tspan><tspan class="l">[off_53970]</tspan><tspan class="c" x="1123">// off_53970</tspan></text>
<text y="220"><tspan class="a" x="915">000536A4</tspan><tspan class="m" x="962">ADD</tspan><tspan class="o" x="1023">R6, PC, R6</tspan><tspan class="c" x="1123">// _GLOBAL_OFFSET_TABLE_</tspan></text>
<text y="229"><tspan class="a" x="915">000536A8</tspan><tspan class="m" x="962">LDR</tspan><tspan class="o" x="1023">R4, </tspan><tspan class="p">[R6,R3]</tspan><tspan class="c" x="1123">// CPU</tspan></text>
<text y="238"><tspan class="a" x="915">000536AC</tspan><tspan class="m" x="962">LDR</tspan><tspan class="o" x="1023">R0, </tspan><tspan class="p">[R4,0x1C]</tspan></text>
<text y="247"><tspan class="a" x="915">000536B0</tspan><tspan class="m" x="962">LDR</tspan><tspan class="o" x="1023">R1, </tspan><tspan class="p">[R4]</tspan></text>
<text y="256"><tspan class="a" x="915">000536B4</tspan><tspan class="m" x="962">ADD</tspan><tspan class="o" x="1023">R5, R0, </tspan><tspan class="n">6</tspan></text>
<text y="265"><tspan class="a" x="915">000536B8</tspan><tspan class="m" x="962">LDR</tspan><tspan class="o" x="1023">R2, </tspan><tspan class="p">[R4,0x38]</tspan></text>
<text y="274"><tspan class="a" x="915">000536BC</tspan><tspan class="m" x="962">ADD</tspan><tspan class="o" x="1023">R7, R5, R1</tspan></text>
<text y="283"><tspan class="a" x="915">000536C0</tspan><tspan class="m" x="962">STR</tspan><tspan class="o" x="1023">R7, </tspan><tspan class="p">[R4]</tspan></text>
<text y="292"><tspan class="a" x="915">000536C4</tspan><tspan class="m" x="962">CMP</tspan><tspan class="o" x="1023">R7, R2</tspan></text>
<text y="302"><tspan class="a" x="915">000536C8</tspan><tspan class="m" x="962">BLT</tspan><tspan class="k" x="1023">b2 </tspan><tspan class="l">loc_536E0</tspan></text>
</g>
<g id="s-000536CC"><rect class="sh" x="1009" y="345" width="225" height="67"/><rect class="bb" x="1005" y="341" width="225" height="66" rx="2"/>
<text y="353"><tspan class="h" x="1011">00053698</tspan><tspan class="h" x="1059">S9xOpcode_IRQ</tspan></text>
<text y="362"><tspan class="a" x="1011">000536CC</tspan><tspan class="m" x="1059">BL</tspan><tspan class="k" x="1120">b2 </tspan><tspan class="f">S9xDoHEventProcessing</tspan></text>
<text y="371"><tspan class="a" x="1011">000536D0</tspan><tspan class="m" x="1059">LDR</tspan><tspan class="o" x="1120">R12, </tspan><tspan class="p">[R4]</tspan></text>
<text y="380"><tspan class="a" x="1011">000536D4</tspan><tspan class="m" x="1059">LDR</tspan><tspan class="o" x="1120">R3, </tspan><tspan class="p">[R4,0x38]</tspan></text>
<text y="389"><tspan class="a" x="1011">000536D8</tspan><tspan class="m" x="1059">CMP</tspan><tspan class="o" x="1120">R12, R3</tspan></text>
<text y="398"><tspan class="a" x="1011">000536DC</tspan><tspan class="m" x="1059">BGE</tspan><tspan class="k" x="1120">b2 </tspan><tspan class="l">loc_536CC</tspan></text>
</g>
<g id="s-000536E0"><rect class="sh" x="935" y="441" width="238" height="67"/><rect class="bb" x="931" y="436" width="238" height="67" rx="2"/>
<text y="449"><tspan class="h" x="936">00053698</tspan><tspan class="h" x="984">S9xOpcode_IRQ</tspan></text>
<text y="458"><tspan class="a" x="936">000536E0</tspan><tspan class="m" x="984">LDR</tspan><tspan class="o" x="1045">LR, </tspan><tspan class="l">[off_53974]</tspan></text>
<text y="468"><tspan class="a" x="936">000536E4</tspan><tspan class="m" x="984">LDR</tspan><tspan class="o" x="1045">R5, </tspan><tspan class="p">[R6,LR]</tspan><tspan class="c" x="1106">// Registers</tspan></text>
<text y="477"><tspan class="a" x="936">000536E8</tspan><tspan class="m" x="984">LDRH</tspan><tspan class="o" x="1045">R0, </tspan><tspan class="k">b2 </tspan><tspan class="p">[R5,2]</tspan></text>
<text y="486"><tspan class="a" x="936">000536EC</tspan><tspan class="m" x="984">TST</tspan><tspan class="o" x="1045">R0, </tspan><tspan class="n">0x100</tspan></text>
<text y="495"><tspan class="a" x="936">000536F0</tspan><tspan class="m" x="984">BNE</tspan><tspan class="k" x="1045">b2 </tspan><tspan class="l">loc_5381C</tspan></text>
</g>
<g id="s-000536F4"><rect class="sh" x="872" y="564" width="245" height="300"/><rect class="yb" x="868.500" y="561" width="244" height="300" rx="2"/>
<text y="573"><tspan class="h" x="875">00053698</tspan><tspan class="h" x="922">S9xOpcode_IRQ</tspan></text>
<text y="582"><tspan class="a" x="875">000536F4</tspan><tspan class="m" x="922">LDRH</tspan><tspan class="o" x="983">R1, </tspan><tspan class="k">b2 </tspan><tspan class="p">[R5,8]</tspan></text>
<text y="591"><tspan class="a" x="875">000536F8</tspan><tspan class="m" x="922">LDRB</tspan><tspan class="o" x="983">R0, </tspan><tspan class="k">b1 </tspan><tspan class="p">[R5,0x12]</tspan></text>
<text y="600"><tspan class="a" x="875">000536FC</tspan><tspan class="m" x="922">SUB</tspan><tspan class="o" x="983">LR, R1, </tspan><tspan class="n">1</tspan></text>
<text y="609"><tspan class="a" x="875">00053700</tspan><tspan class="m" x="922">STRH</tspan><tspan class="o" x="983">LR, </tspan><tspan class="k">b2 </tspan><tspan class="p">[R5,8]</tspan></text>
<text y="618"><tspan class="a" x="875">00053704</tspan><tspan class="m" x="922">BL</tspan><tspan class="k" x="983">b2 </tspan><tspan class="f">sub_30D44</tspan></text>
<text y="627"><tspan class="a" x="875">00053708</tspan><tspan class="m" x="922">LDRH</tspan><tspan class="o" x="983">R1, </tspan><tspan class="k">b2 </tspan><tspan class="p">[R5,8]</tspan></text>
<text y="636"><tspan class="a" x="875">0005370C</tspan><tspan class="m" x="922">LDRH</tspan><tspan class="o" x="983">R0, </tspan><tspan class="k">b2 </tspan><tspan class="p">[R5,0x10]</tspan></text>
<text y="655"><tspan class="a" x="875">00053710</tspan><tspan class="m" x="922">SUB</tspan><tspan class="o" x="983">R1, R1, </tspan><tspan class="n">1</tspan></text>
<text y="664"><tspan class="a" x="875">00053714</tspan><tspan class="m" x="922">BL</tspan><tspan class="k" x="983">b2 </tspan><tspan class="f">sub_31C1C</tspan></text>
<text y="673"><tspan class="a" x="875">00053718</tspan><tspan class="m" x="922">LDR</tspan><tspan class="o" x="983">R0, </tspan><tspan class="l">[off_53978]</tspan><tspan class="c"> // off_53978</tspan></text>
<text y="682"><tspan class="a" x="875">0005371C</tspan><tspan class="m" x="922">LDRH</tspan><tspan class="o" x="983">R7, </tspan><tspan class="k">b2 </tspan><tspan class="p">[R5,8]</tspan></text>
<text y="691"><tspan class="a" x="875">00053720</tspan><tspan class="m" x="922">LDRB</tspan><tspan class="o" x="983">R12, </tspan><tspan class="k">b1 </tspan><tspan class="p">[R5,2]</tspan></text>
<text y="700"><tspan class="a" x="875">00053724</tspan><tspan class="m" x="922">LDR</tspan><tspan class="o" x="983">R3, </tspan><tspan class="p">[R6,R0]</tspan><tspan class="c" x="1048">// ICPU</tspan></text>
<text y="709"><tspan class="a" x="875">00053728</tspan><tspan class="m" x="922">SUB</tspan><tspan class="o" x="983">R2, R7, </tspan><tspan class="n">3</tspan></text>
<text y="718"><tspan class="a" x="875">0005372C</tspan><tspan class="m" x="922">AND</tspan><tspan class="o" x="983">LR, R12, </tspan><tspan class="n">0x3C</tspan></text>
<text y="727"><tspan class="a" x="875">00053730</tspan><tspan class="m" x="922">SUB</tspan><tspan class="o" x="983">R1, R7, </tspan><tspan class="n">2</tspan></text>
<text y="736"><tspan class="a" x="875">00053734</tspan><tspan class="m" x="922">STRH</tspan><tspan class="o" x="983">R2, </tspan><tspan class="k">b2 </tspan><tspan class="p">[R5,8]</tspan></text>
<text y="745"><tspan class="a" x="875">00053738</tspan><tspan class="m" x="922">LDRB</tspan><tspan class="o" x="983">R0, </tspan><tspan class="k">b1 </tspan><tspan class="p">[R3,0xA]</tspan></text>
<text y="754"><tspan class="a" x="875">0005373C</tspan><tspan class="m" x="922">UXTH</tspan><tspan class="o" x="983">R1, </tspan><tspan class="k">b2 </tspan><tspan class="o">R1</tspan></text>
<text y="763"><tspan class="a" x="875">00053740</tspan><tspan class="m" x="922">LDRB</tspan><tspan class="o" x="983">R12, </tspan><tspan class="k">b1 </tspan><tspan class="p">[R3,8]</tspan></text>
<text y="772"><tspan class="a" x="875">00053744</tspan><tspan class="m" x="922">BIC</tspan><tspan class="o" x="983">R7, R0, </tspan><tspan class="n">0x7F</tspan></text>
<text y="781"><tspan class="a" x="875">00053748</tspan><tspan class="m" x="922">LDRB</tspan><tspan class="o" x="983">R0, </tspan><tspan class="k">b1 </tspan><tspan class="p">[R3,0xB]</tspan></text>
<text y="790"><tspan class="a" x="875">0005374C</tspan><tspan class="m" x="922">LDRB</tspan><tspan class="o" x="983">R3, </tspan><tspan class="k">b1 </tspan><tspan class="p">[R3,9]</tspan></text>
<text y="799"><tspan class="a" x="875">00053750</tspan><tspan class="m" x="922">ORR</tspan><tspan class="o" x="983">LR, LR, R7</tspan></text>
<text y="808"><tspan class="a" x="875">00053754</tspan><tspan class="m" x="922">ORR</tspan><tspan class="o" x="983">R2, LR, R12</tspan></text>
<text y="818"><tspan class="a" x="875">00053758</tspan><tspan class="m" x="922">CMP</tspan><tspan class="o" x="983">R3, </tspan><tspan class="n">0</tspan></text>
<text y="827"><tspan class="a" x="875">0005375C</tspan><tspan class="m" x="922">ORR</tspan><tspan class="o" x="983">R12, R2, R0</tspan><tspan class="s">LSL</tspan><tspan class="n">6</tspan></text>
<text y="845"><tspan class="a" x="875">00053760</tspan><tspan class="m" x="922">MOVEQ</tspan><tspan class="o" x="983">R3, </tspan><tspan class="n">2</tspan></text>
<text y="854"><tspan class="a" x="875">00053764</tspan><tspan class="m" x="922">MOVNE</tspan><tspan class="o" x="983">R3, </tspan><tspan class="n">0</tspan></text>
</g>
<g id="s-0005381C"><rect class="yt" x="1126.500" y="560.500" width="240" height="300" rx="2"/>
<rect class="hb" x="1132" y="748" width="173" height="9.500"/><rect class="hb" x="1132" y="812" width="174" height="9.500"/>
<text y="573"><tspan class="h" x="1132">00053698</tspan><tspan class="h" x="1180">S9xOpcode_IRQ</tspan></text>
<text y="582"><tspan class="a" x="1132">0005381C</tspan><tspan class="m" x="1180">LDRB</tspan><tspan class="o" x="1241">R1, </tspan><tspan class="k">b1 </tspan><tspan class="p">[R5,8]</tspan></text>
<text y="591"><tspan class="a" x="1132">00053820</tspan><tspan class="m" x="1180">MOV</tspan><tspan class="o" x="1241">R2, </tspan><tspan class="n">0xFF</tspan></text>
<text y="600"><tspan class="a" x="1132">00053824</tspan><tspan class="m" x="1180">LDRH</tspan><tspan class="o" x="1241">R0, </tspan><tspan class="k">b2 </tspan><tspan class="p">[R5,0x10]</tspan></text>
<text y="609"><tspan class="a" x="1132">00053828</tspan><tspan class="m" x="1180">SUB</tspan><tspan class="o" x="1241">R7, R1, </tspan><tspan class="n">1</tspan></text>
<text y="618"><tspan class="a" x="1132">0005382C</tspan><tspan class="m" x="1180">STRB</tspan><tspan class="o" x="1241">R7, </tspan><tspan class="k">b1 </tspan><tspan class="p">[R5,8]</tspan></text>
<text y="627"><tspan class="a" x="1132">00053830</tspan><tspan class="m" x="1180">LDRH</tspan><tspan class="o" x="1241">R1, </tspan><tspan class="k">b2 </tspan><tspan class="p">[R5,8]</tspan></text>
<text y="636"><tspan class="a" x="1132">00053834</tspan><tspan class="m" x="1180">BL</tspan><tspan class="k" x="1241">b2 </tspan><tspan class="f">sub_31BB4</tspan></text>
<text y="646"><tspan class="a" x="1132">00053838</tspan><tspan class="m" x="1180">LDR</tspan><tspan class="o" x="1241">R12, </tspan><tspan class="l">[off_53978]</tspan></text>
<text y="655"><tspan class="a" x="1132">0005383C</tspan><tspan class="m" x="1180">LDRB</tspan><tspan class="o" x="1241">R2, </tspan><tspan class="k">b1 </tspan><tspan class="p">[R5,8]</tspan></text>
<text y="664"><tspan class="a" x="1132">00053840</tspan><tspan class="m" x="1180">LDRB</tspan><tspan class="o" x="1241">LR, </tspan><tspan class="k">b1 </tspan><tspan class="p">[R5,2]</tspan></text>
<text y="673"><tspan class="a" x="1132">00053844</tspan><tspan class="m" x="1180">SUB</tspan><tspan class="o" x="1241">R3, R2, </tspan><tspan class="n">1</tspan></text>
<text y="682"><tspan class="a" x="1132">00053848</tspan><tspan class="m" x="1180">STRB</tspan><tspan class="o" x="1241">R3, </tspan><tspan class="k">b1 </tspan><tspan class="p">[R5,8]</tspan></text>
<text y="691"><tspan class="a" x="1132">0005384C</tspan><tspan class="m" x="1180">LDR</tspan><tspan class="o" x="1241">R7, </tspan><tspan class="p">[R6,R12]</tspan><tspan class="c" x="1306">//</tspan></text>
<text y="700"><tspan class="a" x="1132">00053850</tspan><tspan class="m" x="1180">AND</tspan><tspan class="o" x="1241">LR, LR, </tspan><tspan class="n">0x3C</tspan></text>
<text y="709"><tspan class="a" x="1132">00053854</tspan><tspan class="m" x="1180">LDRH</tspan><tspan class="o" x="1241">R1, </tspan><tspan class="k">b2 </tspan><tspan class="p">[R5,8]</tspan></text>
<text y="718"><tspan class="a" x="1132">00053858</tspan><tspan class="m" x="1180">LDRB</tspan><tspan class="o" x="1241">R0, </tspan><tspan class="k">b1 </tspan><tspan class="p">[R7,0xA]</tspan></text>
<text y="727"><tspan class="a" x="1132">0005385C</tspan><tspan class="m" x="1180">LDRB</tspan><tspan class="o" x="1241">R3, </tspan><tspan class="k">b1 </tspan><tspan class="p">[R7,9]</tspan></text>
<text y="745"><tspan class="a" x="1132">00053860</tspan><tspan class="m" x="1180">LDRB</tspan><tspan class="o" x="1241">R12, </tspan><tspan class="k">b1 </tspan><tspan class="p">[R7,8]</tspan></text>
<text y="754"><tspan class="a" x="1132">00053864</tspan><tspan class="m" x="1180">BIC</tspan><tspan class="o" x="1241">R2, R0, </tspan><tspan class="n">0x7F</tspan></text>
<text y="763"><tspan class="a" x="1132">00053868</tspan><tspan class="m" x="1180">LDRB</tspan><tspan class="o" x="1241">R0, </tspan><tspan class="k">b1 </tspan><tspan class="p">[R7,0xB]</tspan></text>
<text y="781"><tspan class="a" x="1132">0005386C</tspan><tspan class="m" x="1180">ORR</tspan><tspan class="o" x="1241">LR, LR, R2</tspan></text>
<text y="790"><tspan class="a" x="1132">00053870</tspan><tspan class="m" x="1180">CMP</tspan><tspan class="o" x="1241">R3, </tspan><tspan class="n">0</tspan></text>
<text y="799"><tspan class="a" x="1132">00053874</tspan><tspan class="m" x="1180">ORR</tspan><tspan class="o" x="1241">R7, LR, R12</tspan></text>
<text y="818"><tspan class="a" x="1132">00053878</tspan><tspan class="m" x="1180">ORR</tspan><tspan class="o" x="1241">R12, R7, R0</tspan><tspan class="s">LSL</tspan><tspan class="n">6</tspan></text>
<text y="827"><tspan class="a" x="1132">0005387C</tspan><tspan class="m" x="1180">MOVEQ</tspan><tspan class="o" x="1241">R3, </tspan><tspan class="n">2</tspan></text>
<text y="836"><tspan class="a" x="1132">00053880</tspan><tspan class="m" x="1180">MOVNE</tspan><tspan class="o" x="1241">R3, </tspan><tspan class="n">0</tspan></text>
<text y="845"><tspan class="a" x="1132">00053884</tspan><tspan class="m" x="1180">ORR</tspan><tspan class="o" x="1241">R2, R12, R3</tspan></text>
<text y="854"><tspan class="a" x="1132">00053888</tspan><tspan class="m" x="1180">UXTB</tspan><tspan class="o" x="1241">R0, </tspan><tspan class="k">b1 </tspan><tspan class="o">R2</tspan></text>
</g>
</g>

<g id="connectors">
<path class="g1" d="M450 311V435.500" marker-end="url(#ag)"/>
<path class="r1" d="M612.500 311V314Q612.500 317 608 319L583 329Q578 331 577.500 339.500" marker-end="url(#ar)"/>
<path class="g1" d="M634.500 341V335Q634.500 332 637 332H696Q699 332 699 335V352Q699 356.500 692 356.500" marker-end="url(#ag)"/>
<path class="r1" d="M578 407.500V412Q578 415 575 418L571 424Q569.500 428 569.500 435.500" marker-end="url(#ar)"/>
<path class="r3" d="M450 503.500V558" marker-end="url(#aR)"/>
<path class="g1" d="M569.500 503.500V505Q570 508 574 509L705 550Q710 552 710 559.500" marker-end="url(#ag)"/>
<path class="g1" d="M989.500 311V435.500" marker-end="url(#ag)"/>
<path class="r1" d="M1152.500 311V314Q1152.500 317 1148 319L1122 329Q1117.500 331 1117 339.500" marker-end="url(#ar)"/>
<path class="g1" d="M1173.500 341V335Q1173.500 332 1176 332H1236Q1239 332 1239 335V352Q1239 356.500 1231.500 356.500" marker-end="url(#ag)"/>
<path class="r1" d="M1118 407.500V412Q1118 415 1115 418L1110 424Q1108.500 428 1108.500 435.500" marker-end="url(#ar)"/>
<path class="r3" d="M989.500 503.500V558" marker-end="url(#aR)"/>
<path class="g1" d="M1108.500 503.500V505Q1109 508 1114 510L1245 550Q1249.500 552 1249.500 559.500" marker-end="url(#ag)"/>
</g>

<g id="watermark">
<path d="M1311 730L1320 741" stroke="#999" stroke-width="5"/><path d="M1316 739L1322 745" stroke="#333" stroke-width="6"/>
<circle cx="1311" cy="721" r="9.500" fill="#bd1c1c"/><circle cx="1308" cy="717" r="3" fill="#e66"/>
<ellipse cx="1333" cy="740" rx="6" ry="4" fill="#c01818" transform="rotate(-25 1333 740)"/><ellipse cx="1315" cy="750" rx="6" ry="4" fill="#c01818" transform="rotate(-25 1315 750)"/>
<path d="M1311 762L1345 743L1336 731" fill="none" stroke="#aaa" stroke-width="2"/>
<text class="wm" x="1352" y="739" font-size="25" textLength="94" lengthAdjust="spacingAndGlyphs" opacity=".95">BiteYour</text>
<text class="wm" x="1352" y="755" font-size="21" textLength="94" lengthAdjust="spacingAndGlyphs">CONSOLE</text>
<text x="1334" y="866" font-size="30" fill="#555">BiteYourConsole</text>
</g>
</svg>
